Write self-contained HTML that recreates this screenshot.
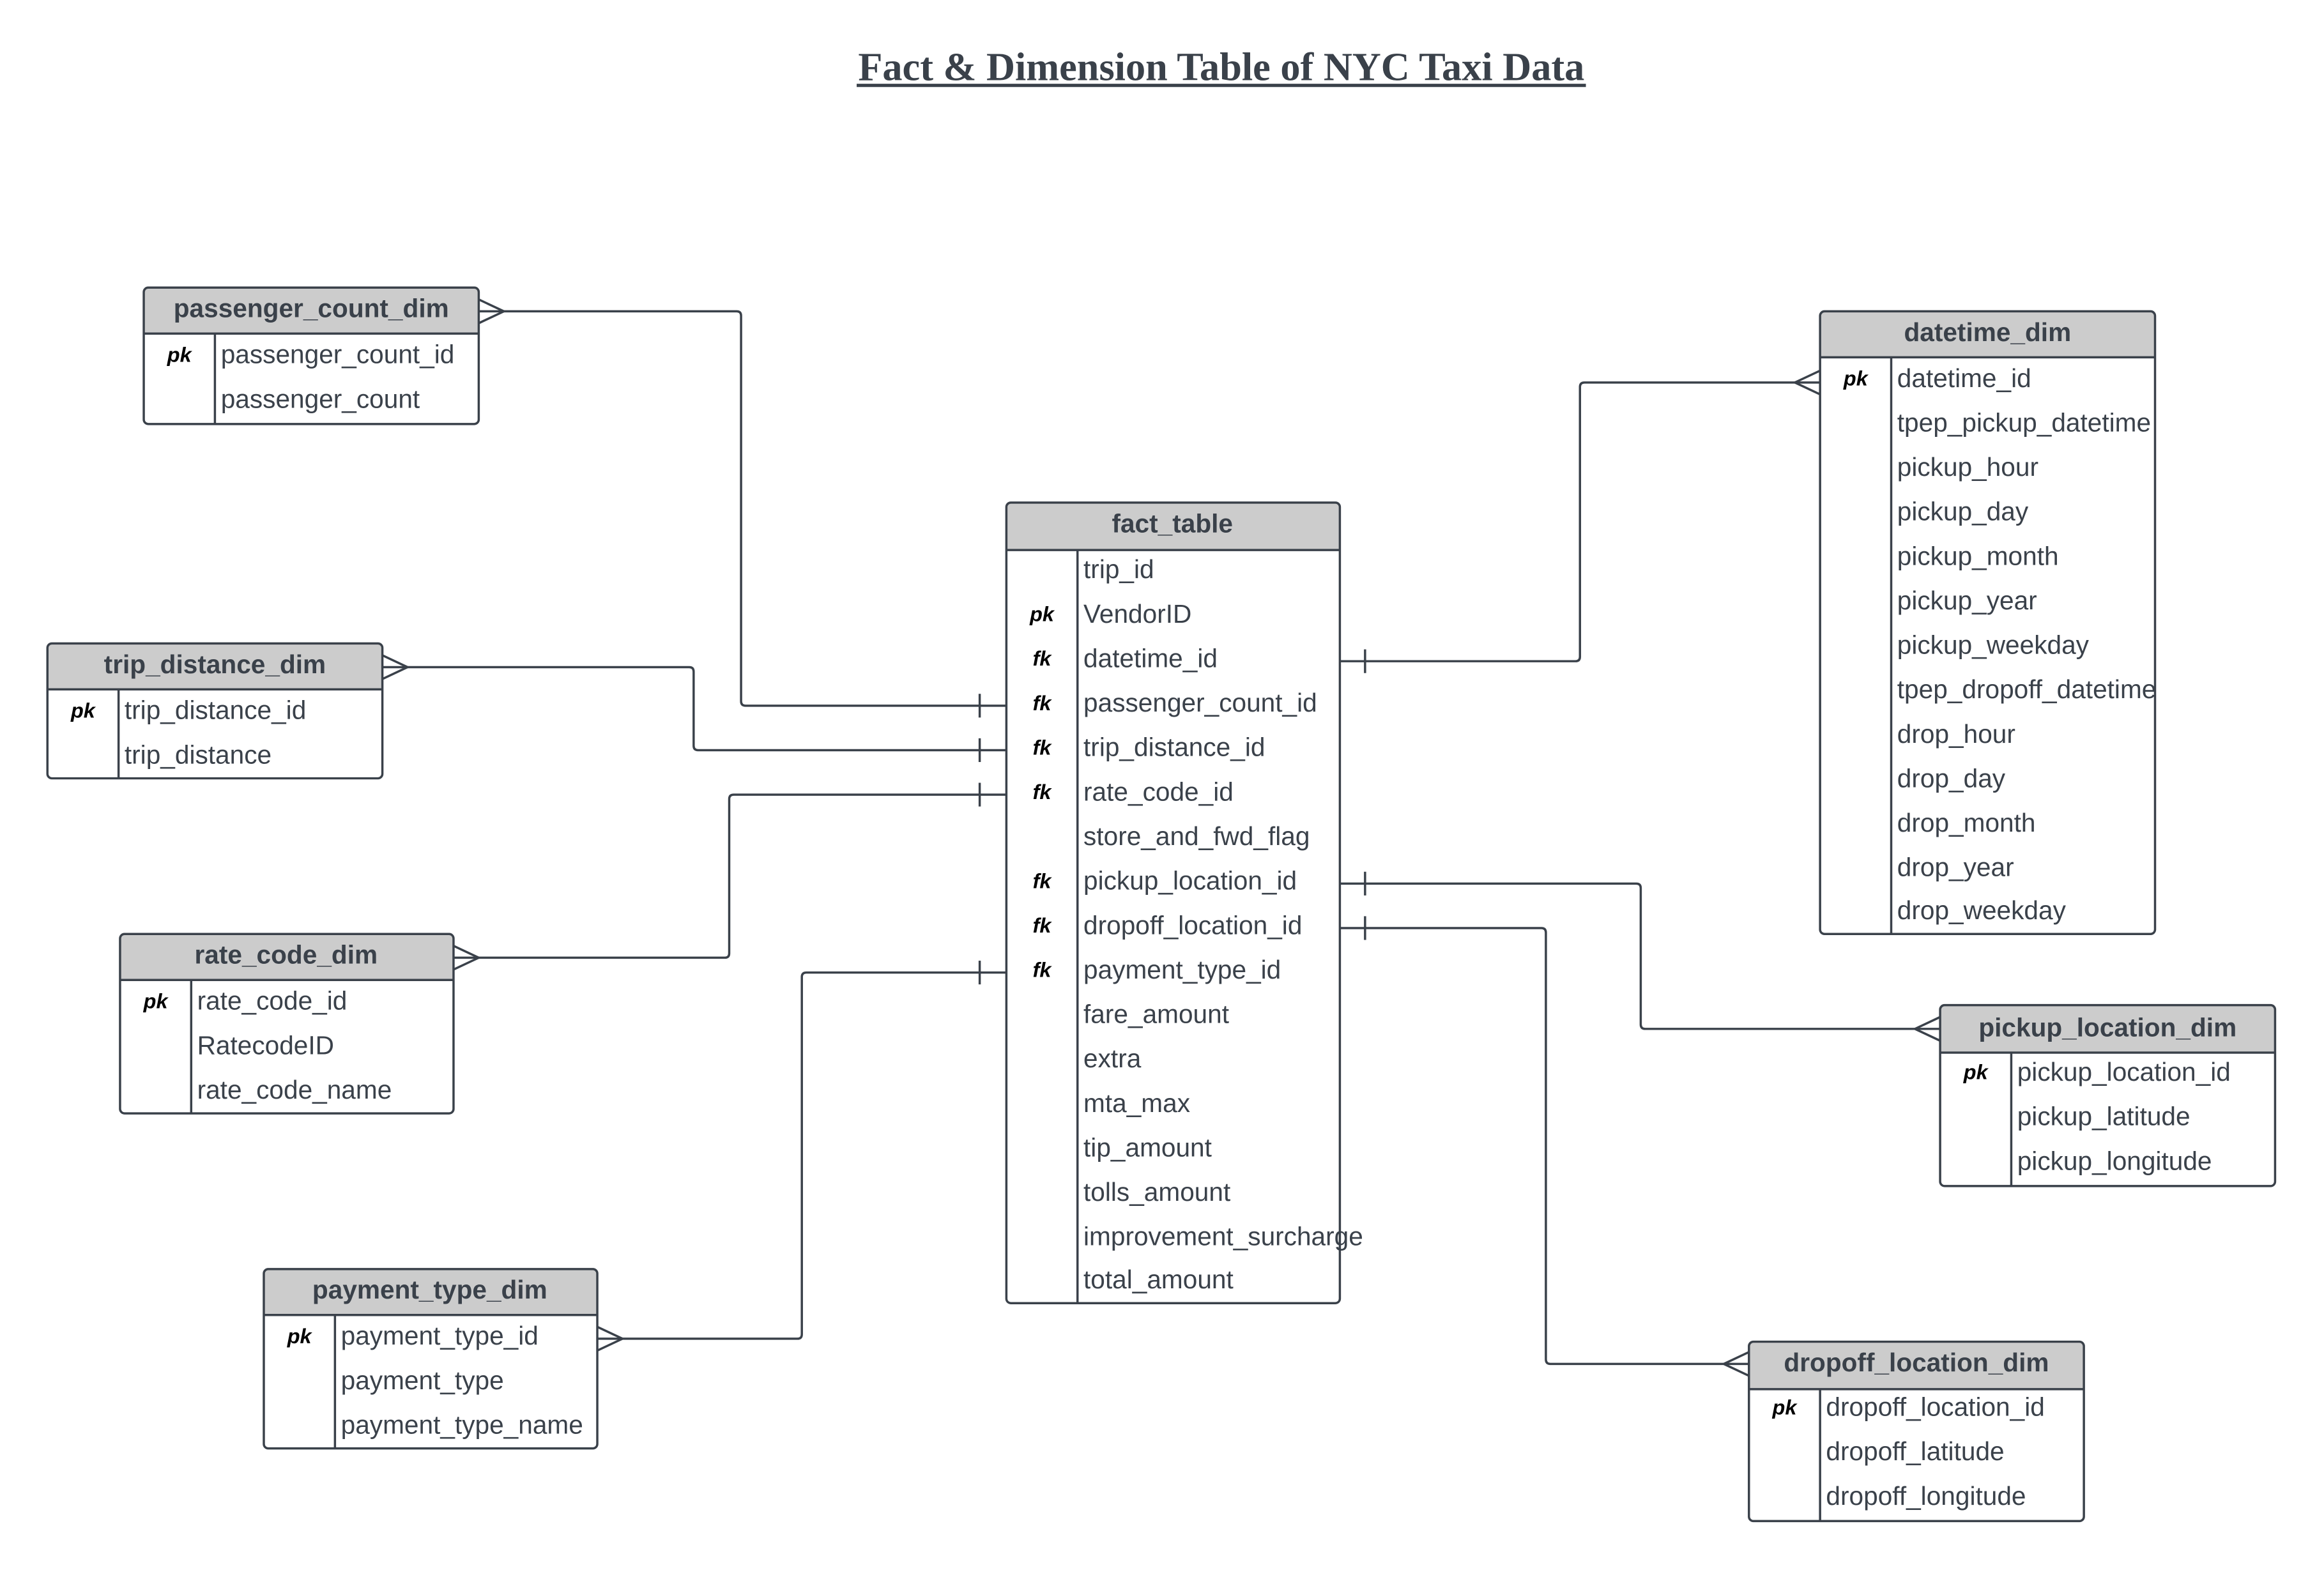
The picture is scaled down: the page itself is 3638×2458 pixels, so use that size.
<!DOCTYPE html>
<html><head><meta charset="utf-8"><style>
html,body{margin:0;padding:0;background:#fff;}
svg{display:block;}
.h{font-family:"Liberation Sans",sans-serif;font-weight:bold;font-size:17.5px;fill:#3a414a;text-anchor:middle;}
.f{font-family:"Liberation Sans",sans-serif;font-size:17.5px;fill:#3a414a;}
.k{font-family:"Liberation Sans",sans-serif;font-size:14px;font-weight:bold;font-style:italic;fill:#000;text-anchor:middle;}
.l{fill:none;stroke:#3a414a;stroke-width:1.5;}
</style></head><body>
<svg width="3638" height="2458" viewBox="0 0 1568 1059" preserveAspectRatio="none" xmlns="http://www.w3.org/2000/svg">
<rect width="1568" height="1059" fill="#fff"/>
<text x="824" y="54" text-anchor="middle" textLength="490" lengthAdjust="spacingAndGlyphs" style="font-family:'Liberation Serif',serif;font-weight:bold;font-size:27px;fill:#3a414a;">Fact &amp; Dimension Table of NYC Taxi Data</text>
<rect x="578" y="56.5" width="492" height="2.2" fill="#3a414a"/>

<g class="l">
<path d="M323 210 H497 Q500 210 500 213 V473 Q500 476 503 476 H679"/>
<path d="M323 202 L340 210 L323 218"/><line x1="661" y1="468" x2="661" y2="484"/>
<path d="M258 450 H465 Q468 450 468 453 V503 Q468 506 471 506 H679"/>
<path d="M258 442 L275 450 L258 458"/><line x1="661" y1="498" x2="661" y2="514"/>
<path d="M306 646 H489 Q492 646 492 643 V539 Q492 536 495 536 H679"/>
<path d="M306 638 L323 646 L306 654"/><line x1="661" y1="528" x2="661" y2="544"/>
<path d="M403 903 H538 Q541 903 541 900 V659 Q541 656 544 656 H679"/>
<path d="M403 895 L420 903 L403 911"/><line x1="661" y1="648" x2="661" y2="664"/>
<path d="M904 446 H1063 Q1066 446 1066 443 V261 Q1066 258 1069 258 H1228"/>
<path d="M1228 250 L1211 258 L1228 266"/><line x1="921" y1="438" x2="921" y2="454"/>
<path d="M904 596 H1104 Q1107 596 1107 599 V691 Q1107 694 1110 694 H1309"/>
<path d="M1309 686 L1292 694 L1309 702"/><line x1="921" y1="588" x2="921" y2="604"/>
<path d="M904 626 H1040 Q1043 626 1043 629 V917 Q1043 920 1046 920 H1180"/>
<path d="M1180 912 L1163 920 L1180 928"/><line x1="921" y1="618" x2="921" y2="634"/>
</g>

<g id="tables">
<path d="M97 225 V197 Q97 194 100 194 H320 Q323 194 323 197 V225 Z" fill="#ccc"/>
<rect x="97" y="194" width="226" height="92" rx="3" class="l"/>
<line x1="97" y1="225" x2="323" y2="225" class="l"/><line x1="145" y1="225" x2="145" y2="286" class="l"/>
<text x="210" y="214" class="h">passenger_count_dim</text>
<text x="121" y="244" class="k">pk</text>
<text x="149" y="245" class="f">passenger_count_id</text>
<text x="149" y="275" class="f">passenger_count</text>

<path d="M32 465 V437 Q32 434 35 434 H255 Q258 434 258 437 V465 Z" fill="#ccc"/>
<rect x="32" y="434" width="226" height="91" rx="3" class="l"/>
<line x1="32" y1="465" x2="258" y2="465" class="l"/><line x1="80" y1="465" x2="80" y2="525" class="l"/>
<text x="145" y="454" class="h">trip_distance_dim</text>
<text x="56" y="484" class="k">pk</text>
<text x="84" y="485" class="f">trip_distance_id</text>
<text x="84" y="515" class="f">trip_distance</text>

<path d="M81 661 V633 Q81 630 84 630 H303 Q306 630 306 633 V661 Z" fill="#ccc"/>
<rect x="81" y="630" width="225" height="121" rx="3" class="l"/>
<line x1="81" y1="661" x2="306" y2="661" class="l"/><line x1="129" y1="661" x2="129" y2="751" class="l"/>
<text x="193" y="650" class="h">rate_code_dim</text>
<text x="105" y="680" class="k">pk</text>
<text x="133" y="681" class="f">rate_code_id</text>
<text x="133" y="711" class="f">RatecodeID</text>
<text x="133" y="741" class="f">rate_code_name</text>

<path d="M178 887 V859 Q178 856 181 856 H400 Q403 856 403 859 V887 Z" fill="#ccc"/>
<rect x="178" y="856" width="225" height="121" rx="3" class="l"/>
<line x1="178" y1="887" x2="403" y2="887" class="l"/><line x1="226" y1="887" x2="226" y2="977" class="l"/>
<text x="290" y="876" class="h">payment_type_dim</text>
<text x="202" y="906" class="k">pk</text>
<text x="230" y="907" class="f">payment_type_id</text>
<text x="230" y="937" class="f">payment_type</text>
<text x="230" y="967" class="f">payment_type_name</text>

<path d="M679 371 V342 Q679 339 682 339 H901 Q904 339 904 342 V371 Z" fill="#ccc"/>
<rect x="679" y="339" width="225" height="540" rx="3" class="l"/>
<line x1="679" y1="371" x2="904" y2="371" class="l"/><line x1="727" y1="371" x2="727" y2="879" class="l"/>
<text x="791" y="359" class="h">fact_table</text>
<text x="703" y="419" class="k">pk</text>
<text x="703" y="449" class="k">fk</text>
<text x="703" y="479" class="k">fk</text>
<text x="703" y="509" class="k">fk</text>
<text x="703" y="539" class="k">fk</text>
<text x="703" y="599" class="k">fk</text>
<text x="703" y="629" class="k">fk</text>
<text x="703" y="659" class="k">fk</text>
<text x="731" y="390" class="f">trip_id</text>
<text x="731" y="420" class="f">VendorID</text>
<text x="731" y="450" class="f">datetime_id</text>
<text x="731" y="480" class="f">passenger_count_id</text>
<text x="731" y="510" class="f">trip_distance_id</text>
<text x="731" y="540" class="f">rate_code_id</text>
<text x="731" y="570" class="f">store_and_fwd_flag</text>
<text x="731" y="600" class="f">pickup_location_id</text>
<text x="731" y="630" class="f">dropoff_location_id</text>
<text x="731" y="660" class="f">payment_type_id</text>
<text x="731" y="690" class="f">fare_amount</text>
<text x="731" y="720" class="f">extra</text>
<text x="731" y="750" class="f">mta_max</text>
<text x="731" y="780" class="f">tip_amount</text>
<text x="731" y="810" class="f">tolls_amount</text>
<text x="731" y="840" class="f">improvement_surcharge</text>
<text x="731" y="869" class="f">total_amount</text>

<path d="M1228 241 V213 Q1228 210 1231 210 H1451 Q1454 210 1454 213 V241 Z" fill="#ccc"/>
<rect x="1228" y="210" width="226" height="420" rx="3" class="l"/>
<line x1="1228" y1="241" x2="1454" y2="241" class="l"/><line x1="1276" y1="241" x2="1276" y2="630" class="l"/>
<text x="1341" y="230" class="h">datetime_dim</text>
<text x="1252" y="260" class="k">pk</text>
<text x="1280" y="261" class="f">datetime_id</text>
<text x="1280" y="291" class="f">tpep_pickup_datetime</text>
<text x="1280" y="321" class="f">pickup_hour</text>
<text x="1280" y="351" class="f">pickup_day</text>
<text x="1280" y="381" class="f">pickup_month</text>
<text x="1280" y="411" class="f">pickup_year</text>
<text x="1280" y="441" class="f">pickup_weekday</text>
<text x="1280" y="471" class="f">tpep_dropoff_datetime</text>
<text x="1280" y="501" class="f">drop_hour</text>
<text x="1280" y="531" class="f">drop_day</text>
<text x="1280" y="561" class="f">drop_month</text>
<text x="1280" y="591" class="f">drop_year</text>
<text x="1280" y="620" class="f">drop_weekday</text>

<path d="M1309 710 V681 Q1309 678 1312 678 H1532 Q1535 678 1535 681 V710 Z" fill="#ccc"/>
<rect x="1309" y="678" width="226" height="122" rx="3" class="l"/>
<line x1="1309" y1="710" x2="1535" y2="710" class="l"/><line x1="1357" y1="710" x2="1357" y2="800" class="l"/>
<text x="1422" y="699" class="h">pickup_location_dim</text>
<text x="1333" y="728" class="k">pk</text>
<text x="1361" y="729" class="f">pickup_location_id</text>
<text x="1361" y="759" class="f">pickup_latitude</text>
<text x="1361" y="789" class="f">pickup_longitude</text>

<path d="M1180 937 V908 Q1180 905 1183 905 H1403 Q1406 905 1406 908 V937 Z" fill="#ccc"/>
<rect x="1180" y="905" width="226" height="121" rx="3" class="l"/>
<line x1="1180" y1="937" x2="1406" y2="937" class="l"/><line x1="1228" y1="937" x2="1228" y2="1026" class="l"/>
<text x="1293" y="925" class="h">dropoff_location_dim</text>
<text x="1204" y="954" class="k">pk</text>
<text x="1232" y="955" class="f">dropoff_location_id</text>
<text x="1232" y="985" class="f">dropoff_latitude</text>
<text x="1232" y="1015" class="f">dropoff_longitude</text>
</g>
</svg>
</body></html>
